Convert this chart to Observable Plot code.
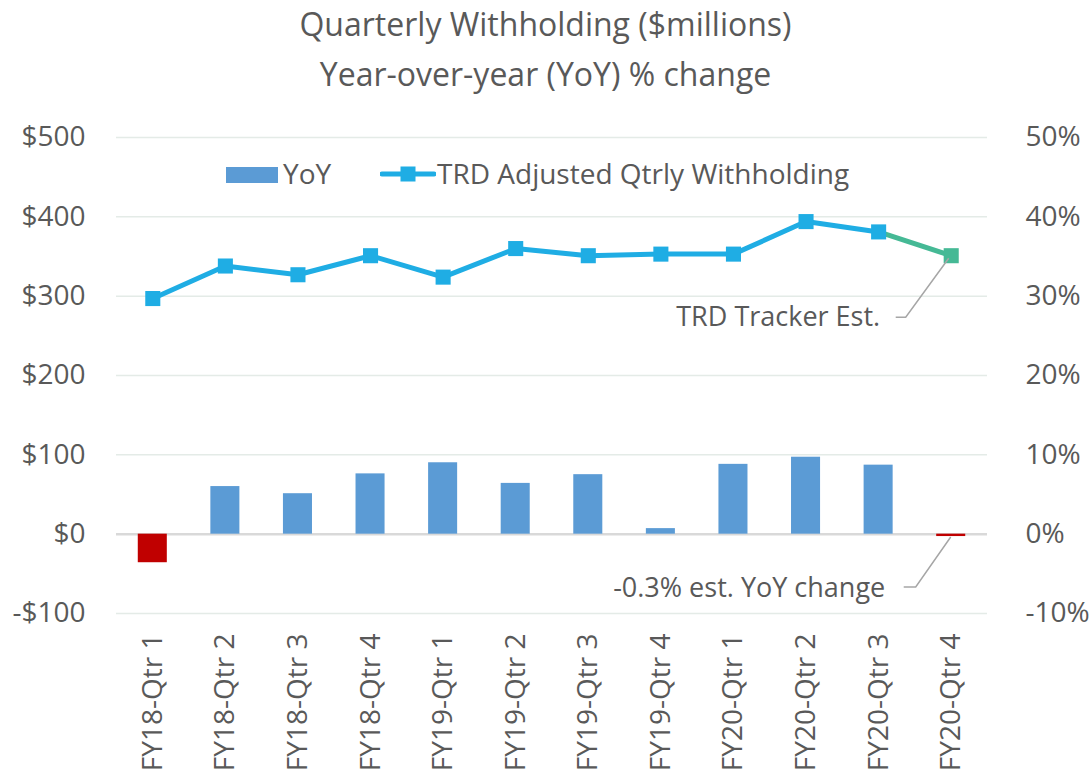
<!DOCTYPE html>
<html><head><meta charset="utf-8">
<script src="https://cdn.jsdelivr.net/npm/d3@7"></script>
<script src="https://cdn.jsdelivr.net/npm/@observablehq/plot@0.6"></script>
<style>
body{margin:0;background:#fff;font-family:"Open Sans",sans-serif;color:#595959;}
#wrap{position:relative;width:1091px;height:774px;overflow:hidden;}
#chart{position:absolute;left:0;top:0;}
.title{position:absolute;left:0;width:1091px;text-align:center;font-size:32px;line-height:40px;color:#595959;}
.leg{position:absolute;font-size:28px;line-height:30px;color:#595959;white-space:nowrap;}
</style></head>
<body>
<div id="wrap">
  <div id="chart"></div>
  <div class="title" id="t1" style="top:3.5px"></div>
  <div class="title" id="t2" style="top:53.5px"></div>
  <div class="leg" style="left:226px;top:167px;width:52px;height:16px;background:#5B9BD5"></div>
  <div class="leg" id="legA" style="left:283px;top:158px"></div>
  <svg class="leg" style="left:380px;top:164px" width="56" height="20">
    <line x1="2" y1="10" x2="54" y2="10" stroke="#1FADE4" stroke-width="5" stroke-linecap="round"/>
    <rect x="20.5" y="2.5" width="15" height="15" fill="#1FADE4"/>
  </svg>
  <div class="leg" id="legB" style="left:437px;top:158px"></div>
</div>
<script>
// ---- data ----
const titleLines = ["Quarterly Withholding ($millions)", "Year-over-year (YoY) % change"];
const seriesNames = ["YoY", "TRD Adjusted Qtrly Withholding"];
const categories = ["FY18-Qtr 1","FY18-Qtr 2","FY18-Qtr 3","FY18-Qtr 4",
                    "FY19-Qtr 1","FY19-Qtr 2","FY19-Qtr 3","FY19-Qtr 4",
                    "FY20-Qtr 1","FY20-Qtr 2","FY20-Qtr 3","FY20-Qtr 4"];
const withholding = [297, 338, 327, 351, 324, 360, 351, 353, 353, 394, 381, 351]; // $ millions
const yoyPct = [-3.6, 6.0, 5.1, 7.6, 9.0, 6.4, 7.5, 0.7, 8.8, 9.7, 8.7, -0.3];   // %
const leftTicks = [-100, 0, 100, 200, 300, 400, 500];
const annotations = ["TRD Tracker Est.", "-0.3% est. YoY change"];

const PCT = 10; // left-axis units per 1 % on the shared vertical scale

document.getElementById("t1").textContent = titleLines[0];
document.getElementById("t2").textContent = titleLines[1];
document.getElementById("legA").textContent = seriesNames[0];
document.getElementById("legB").textContent = seriesNames[1];

const rows = categories.map((c, i) => ({cat: c, w: withholding[i], yoy: yoyPct[i]}));
const actual = rows.slice(0, 11);
const estSeg = rows.slice(10);
const last = rows[11];

const BLUE = "#1FADE4", GREEN = "#45B995", BAR = "#5B9BD5", RED = "#C00000";

const chart = Plot.plot({
  width: 1091, height: 774,
  marginTop: 137, marginBottom: 161, marginLeft: 116, marginRight: 104,
  style: {fontFamily: "Open Sans", fontSize: "28px", color: "#595959", background: "transparent", overflow: "visible"},
  x: {type: "band", domain: categories, paddingInner: 0.6, paddingOuter: 0.3, round: false, label: null},
  y: {domain: [-100, 500], label: null},
  color: {type: "identity"},
  marks: [
    Plot.gridY(leftTicks.filter(d => d !== 0), {stroke: "#E4EBE7", strokeOpacity: 1, strokeWidth: 1.5}),
    Plot.ruleY([0], {stroke: "#D9D9D9", strokeWidth: 2.5}),
    Plot.barY(rows, {x: "cat", y: d => d.yoy * PCT, fill: d => d.yoy < 0 ? RED : BAR}),
    Plot.line(actual, {x: "cat", y: "w", stroke: BLUE, strokeWidth: 5, strokeLinejoin: "round"}),
    Plot.line(estSeg, {x: "cat", y: "w", stroke: GREEN, strokeWidth: 5}),
    Plot.dot(actual, {x: "cat", y: "w", symbol: "square", r: 8.5, fill: BLUE}),
    Plot.dot([last], {x: "cat", y: "w", symbol: "square", r: 8.5, fill: GREEN}),
    Plot.axisY(leftTicks, {anchor: "left", tickSize: 0, tickPadding: 31, fontSize: 28,
      tickFormat: d => d < 0 ? `-$${-d}` : `$${d}`}),
    Plot.axisY(leftTicks, {anchor: "right", tickSize: 0, tickPadding: 38, fontSize: 28,
      tickFormat: d => `${d / PCT}%`}),
    Plot.axisX({tickSize: 0, tickRotate: -90, tickPadding: 20, fontSize: 28}),
    Plot.text([last], {x: "cat", y: "w", text: () => annotations[0], textAnchor: "end",
      dx: -71, dy: 62, fontSize: 27}),
    Plot.text([last], {x: "cat", y: d => d.yoy * PCT, text: () => annotations[1], textAnchor: "end",
      dx: -66, dy: 52, fontSize: 27})
  ]
});
document.getElementById("chart").appendChild(chart);

// leader lines, positioned from the chart's own scales
const xs = chart.scale("x"), ys = chart.scale("y");
const cx = xs.apply(last.cat) + xs.bandwidth / 2;
const svg = d3.select(chart);
const yW = ys.apply(last.w), yB = ys.apply(last.yoy * PCT);
svg.append("path")
  .attr("d", `M${cx - 55},${yW + 62} L${cx - 45},${yW + 62} L${cx - 2},${yW + 3}`)
  .attr("fill", "none").attr("stroke", "#A6A6A6").attr("stroke-width", 1.5);
svg.append("path")
  .attr("d", `M${cx - 47},${yB + 51} L${cx - 35},${yB + 51} L${cx},${yB + 1}`)
  .attr("fill", "none").attr("stroke", "#A6A6A6").attr("stroke-width", 1.5);
</script>
</body></html>
